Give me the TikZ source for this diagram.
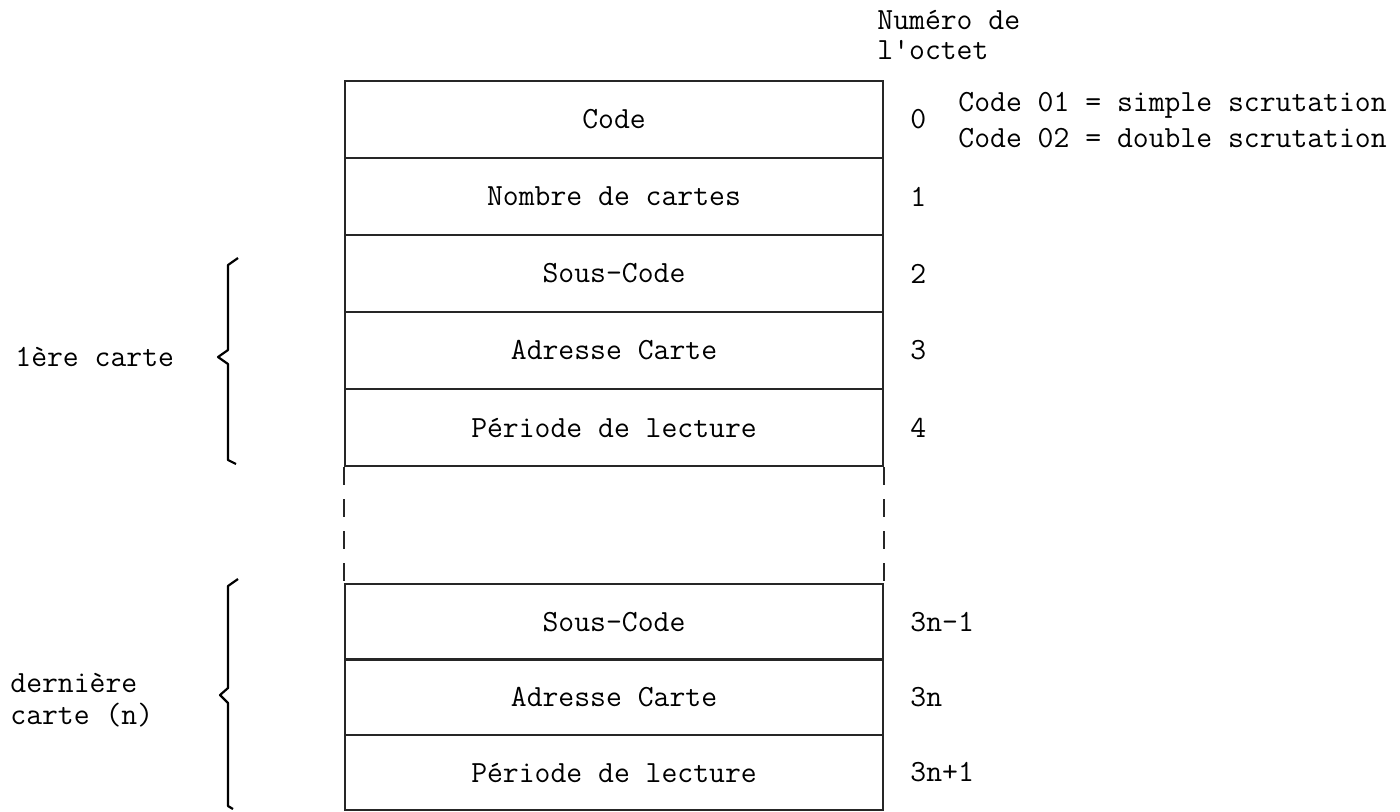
\documentclass[tikz,border=0pt]{standalone}
\usepackage{fontspec}
\begin{document}
\begin{tikzpicture}[x=0.5pt,y=-0.5pt,
  every node/.style={font=\ttfamily\fontsize{15.4}{18}\selectfont, inner sep=0pt},
  cell/.style={draw=black!85, line width=1.1pt, minimum width=269pt, minimum height=38.5pt, anchor=center},
  lowcell/.style={cell, minimum height=37.7pt},
  num/.style={anchor=west},
  lbl/.style={anchor=west},
  gap/.style={draw=black!85, line width=1.1pt, dash pattern=on 9pt off 7pt},
  bracestyle/.style={draw=black, line width=1.1pt, line join=round}
]
\useasboundingbox (0,0) rectangle (1400,811);

% upper block
\node[cell] (c0) at (614,119.5) {Code};
\node[cell] (c1) at (614,196.5) {Nombre de cartes};
\node[cell] (c2) at (614,273.5) {Sous-Code};
\node[cell] (c3) at (614,350.5) {Adresse Carte};
\node[cell] (c4) at (614,427.5) {Période de lecture};

% lower block
\node[lowcell] (d1) at (614,621.7) {Sous-Code};
\node[lowcell] (d2) at (614,697.1) {Adresse Carte};
\node[lowcell] (d3) at (614,772.5) {Période de lecture};

% dashed continuation
\draw[gap] (c4.south west) -- (d1.north west);
\draw[gap] (c4.south east) -- (d1.north east);

% byte numbers
\node[num] (n0) at (910,119) {0};
\node[num] (n1) at (910,196.5) {1};
\node[num] (n2) at (910,273.5) {2};
\node[num] (n3) at (910,350.5) {3};
\node[num] (n4) at (910,427.5) {4};
\node[num] (m1) at (910,621.7) {3n-1};
\node[num] (m2) at (910,697.1) {3n};
\node[num] (m3) at (910,772.5) {3n+1};

% header
\node[lbl] (h1) at (877,20) {Numéro de};
\node[lbl] (h2) at (877,50) {l'octet};

% code note
\node[lbl] (k1) at (958,105) {Code 01 = simple scrutation};
\node[lbl] (k2) at (958,138) {Code 02 = double scrutation};

% left labels
\node[lbl] (g1) at (15,357) {1ère carte};
\node[lbl] (g2) at (10,683) {dernière};
\node[lbl] (g3) at (10,715) {carte (n)};

% braces
\draw[bracestyle] (238,258) -- (228,265) -- (228,350) -- (218,357) -- (228,364) -- (228,460) -- (236,464);
\draw[bracestyle] (238,579) -- (228,586) -- (228,688) -- (220,695) -- (228,703) -- (228,806) -- (233,809);
\end{tikzpicture}
\end{document}
